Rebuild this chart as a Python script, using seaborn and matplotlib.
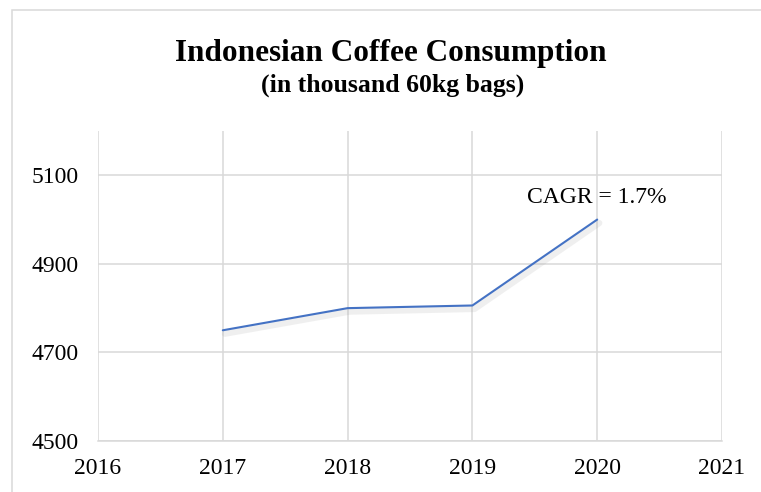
import matplotlib
matplotlib.use("Agg")
import matplotlib.pyplot as plt
import matplotlib.patheffects as pe
from matplotlib.patches import Rectangle
import seaborn as sns
import pandas as pd

years = [2017, 2018, 2019, 2020]
consumption = [4750, 4800, 4806, 5000]
x_ticks = [2016, 2017, 2018, 2019, 2020, 2021]
y_ticks = [4500, 4700, 4900, 5100]
title = "Indonesian Coffee Consumption"
subtitle = "(in thousand 60kg bags)"
note = "CAGR = 1.7%"

sns.set_style("white")
plt.rcParams['font.family'] = ['Liberation Serif', 'DejaVu Serif']
plt.rcParams['text.color'] = 'black'

df = pd.DataFrame({"year": years, "value": consumption})

W, H = 761, 492
fig = plt.figure(figsize=(W / 100, H / 100), dpi=100)
ax = fig.add_axes([98 / W, 1 - 441 / H, (722 - 98) / W, (441 - 131) / H])

grid_c = "#D9D9D9"
sns.lineplot(data=df, x="year", y="value", ax=ax, color="#4472C4", linewidth=1.5,
             path_effects=[pe.SimpleLineShadow(offset=(1.5, -2.5), shadow_color="#999999",
                                               alpha=0.15, linewidth=4.5),
                           pe.Normal()], zorder=3)

ax.set_xlim(2016, 2021)
ax.set_ylim(4500, 5200)
ax.set_xticks(x_ticks)
ax.set_yticks(y_ticks)
ax.set_xticklabels([str(t) for t in x_ticks])
ax.set_yticklabels([str(t) for t in y_ticks])
ax.grid(True, color=grid_c, linewidth=1.1)
ax.set_axisbelow(True)
for s in ["top", "right", "left"]:
    ax.spines[s].set_visible(False)
ax.spines["bottom"].set_color(grid_c)
ax.spines["bottom"].set_linewidth(1.1)
ax.tick_params(axis="both", length=0, labelsize=17, colors="black")
ax.tick_params(axis="x", pad=12)
ax.tick_params(axis="y", pad=14)
ax.set_xlabel("")
ax.set_ylabel("")

ax.text(2020, 5037, note, ha="center", va="baseline", fontsize=17, color="black")

fig.text(0.5 * (175 + 606) / W, 1 - 61 / H, title, ha="center", va="baseline",
         fontsize=22.5, fontweight="bold", color="black")
fig.text(0.5 * (258 + 527) / W, 1 - 92 / H, subtitle, ha="center", va="baseline",
         fontsize=18.5, fontweight="bold", color="black")

fig.patches.append(Rectangle((12 / W, -0.05), 1.2, 1 - 10 / H + 0.05,
                             transform=fig.transFigure, fill=False,
                             edgecolor=grid_c, linewidth=1.1))

fig.savefig("out.png", dpi=100)
